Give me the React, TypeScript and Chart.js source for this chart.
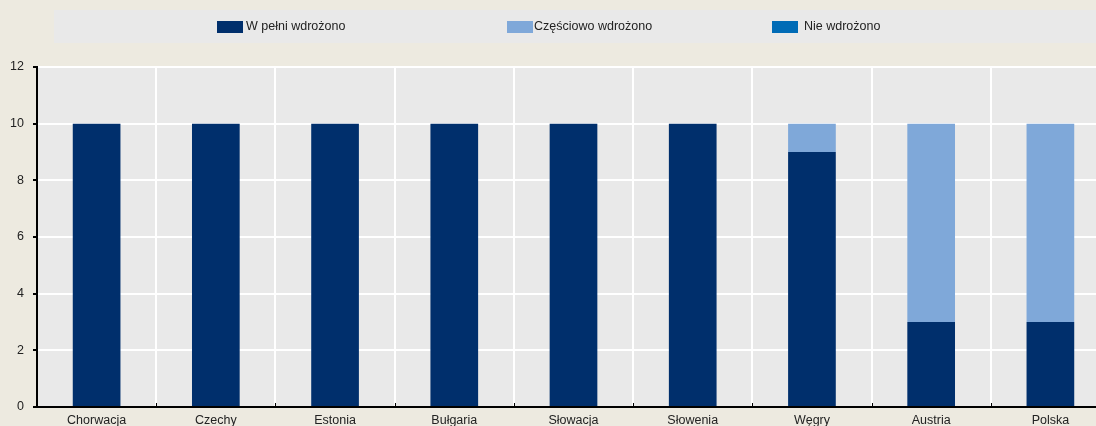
import React, { useEffect, useRef } from "react";
import { Chart, registerables } from "chart.js";

Chart.register(...registerables);

const categories = ["Chorwacja", "Czechy", "Estonia", "Bułgaria", "Słowacja", "Słowenia", "Węgry", "Austria", "Polska"];
const fullyImplemented = [10, 10, 10, 10, 10, 10, 9, 3, 3];
const partiallyImplemented = [0, 0, 0, 0, 0, 0, 1, 7, 7];
const notImplemented = [0, 0, 0, 0, 0, 0, 0, 0, 0];
const seriesLabels = ["W pełni wdrożono", "Częściowo wdrożono", "Nie wdrożono"];
const seriesColors = ["#002F6C", "#7FA8D9", "#006BB6"];
const yTicks = [0, 2, 4, 6, 8, 10, 12];

const PAGE_BG = "#EDEAE0";
const PANEL_BG = "#E9E9E9";
const FONT = "'Liberation Sans', Arial, sans-serif";
const CANVAS_W = 1110;

const legendBoxX = [217, 507, 772];
const legendTextX = [246, 534, 804];

const bgPlugin = {
  id: "bgPlugin",
  beforeDraw(chart: any) {
    const { ctx, chartArea } = chart;
    ctx.save();
    ctx.fillStyle = PAGE_BG;
    ctx.fillRect(0, 0, chart.width, chart.height);
    ctx.fillStyle = PANEL_BG;
    ctx.fillRect(54, 10, chart.width - 54, 33);
    ctx.fillRect(chartArea.left, chartArea.top, chartArea.right - chartArea.left, chartArea.bottom - chartArea.top);
    ctx.restore();
  },
  afterDraw(chart: any) {
    const { ctx, chartArea } = chart;
    ctx.save();
    ctx.font = `12.5px ${FONT}`;
    ctx.textBaseline = "middle";
    ctx.textAlign = "left";
    chart.data.datasets.forEach((ds: any, i: number) => {
      ctx.fillStyle = ds.backgroundColor;
      ctx.fillRect(legendBoxX[i], 21, 26, 12);
      ctx.fillStyle = "#222222";
      ctx.fillText(ds.label, legendTextX[i], 27);
    });
    const xs = chart.scales.x;
    const n = chart.data.labels.length;
    ctx.strokeStyle = "#000000";
    ctx.lineWidth = 1;
    for (let i = 1; i < n; i++) {
      const x = Math.round((xs.getPixelForTick(i - 1) + xs.getPixelForTick(i)) / 2) + 0.5;
      ctx.beginPath();
      ctx.moveTo(x, chartArea.bottom);
      ctx.lineTo(x, chartArea.bottom - 4);
      ctx.stroke();
    }
    ctx.restore();
  },
};

export default function App() {
  const ref = useRef<HTMLCanvasElement | null>(null);
  useEffect(() => {
    if (!ref.current) return;
    const chart = new Chart(ref.current, {
      type: "bar",
      data: {
        labels: categories,
        datasets: [
          { label: seriesLabels[0], data: fullyImplemented, backgroundColor: seriesColors[0] },
          { label: seriesLabels[1], data: partiallyImplemented, backgroundColor: seriesColors[1] },
          { label: seriesLabels[2], data: notImplemented, backgroundColor: seriesColors[2] },
        ],
      },
      options: {
        animation: false,
        responsive: false,
        maintainAspectRatio: false,
        devicePixelRatio: 1,
        datasets: { bar: { barPercentage: 0.4, categoryPercentage: 1 } },
        layout: { padding: { top: 67, left: 0, right: 0, bottom: 0 } },
        plugins: { legend: { display: false }, tooltip: { enabled: false } },
        scales: {
          x: {
            stacked: true,
            afterFit: (s: any) => { s.height = 19; },
            grid: { color: "#FFFFFF", lineWidth: 2, offset: true, drawTicks: false },
            border: { color: "#000000", width: 2 },
            ticks: { color: "#222222", font: { family: FONT, size: 12.5 }, padding: 6, maxRotation: 0 },
          },
          y: {
            stacked: true,
            min: 0,
            max: 12,
            afterFit: (s: any) => { s.width = 37; },
            afterBuildTicks: (s: any) => { s.ticks = yTicks.map((v) => ({ value: v })); },
            grid: { color: "#FFFFFF", lineWidth: 2, tickColor: "#000000", tickLength: 4, tickWidth: 2 },
            border: { color: "#000000", width: 2 },
            ticks: { color: "#222222", font: { family: FONT, size: 12.5 }, padding: 9 },
          },
        },
      },
      plugins: [bgPlugin],
    });
    return () => chart.destroy();
  }, []);
  return (
    <div style={{ position: "fixed", left: 0, top: 0, width: 1096, height: 426, overflow: "hidden", background: PAGE_BG }}>
      <canvas ref={ref} width={CANVAS_W} height={426} style={{ width: CANVAS_W, height: 426, display: "block" }} />
    </div>
  );
}
